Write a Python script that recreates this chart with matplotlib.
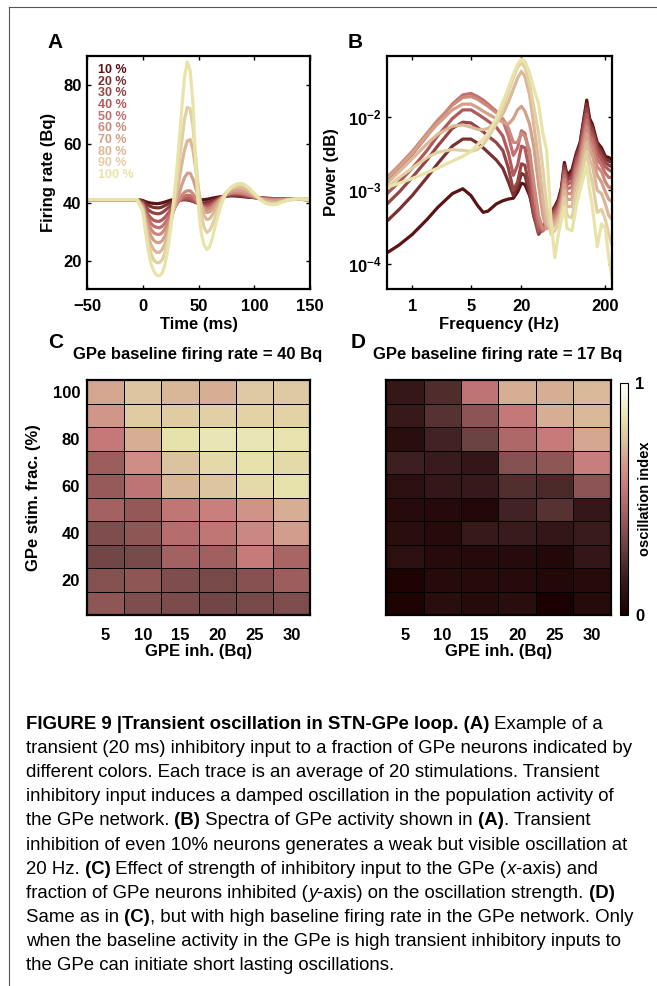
import numpy as np
import matplotlib
matplotlib.use('Agg')
import matplotlib.pyplot as plt
from matplotlib.colors import LinearSegmentedColormap
from matplotlib.lines import Line2D
from matplotlib import font_manager

plt.rcParams['font.family'] = 'Liberation Sans'
plt.rcParams['font.weight'] = 'bold'
plt.rcParams['axes.labelweight'] = 'bold'
plt.rcParams['axes.linewidth'] = 1.6
plt.rcParams['mathtext.fontset'] = 'custom'
plt.rcParams['mathtext.rm'] = 'Liberation Sans:bold'
plt.rcParams['mathtext.bf'] = 'Liberation Sans:bold'

# ---- data ----
fractions = ['10 %', '20 %', '30 %', '40 %', '50 %', '60 %', '70 %', '80 %', '90 %', '100 %']
trace_colors = ['#5c1313', '#7a3030', '#944545', '#b05a5a', '#c47070',
                '#cc8a7a', '#d4a08a', '#dbb898', '#e2d0a4', '#e8e4a8']

# panel A, firing rate (Bq) vs time (ms)
t_ms = [-50, -20, -5, 0, 2.5, 5, 7.5, 10, 12.5, 15, 17.5, 20, 22.5, 25, 27.5, 30, 32.5, 35, 37.5, 40,
        42.5, 45, 47.5, 50, 52.5, 55, 57.5, 60, 62.5, 65, 70, 75, 80, 85, 90, 95, 100, 105, 110,
        115, 120, 125, 130, 140, 150]
rate_10 = [41, 41, 41, 40.7, 40.3, 40, 39.8, 39.7, 39.6, 39.7, 39.9, 40.2, 40.5, 40.8, 41, 41.2, 41.3, 41.3, 41.3, 41.2,
           41.1, 41, 40.9, 40.9, 40.9, 41, 41.1, 41.3, 41.5, 41.7, 42, 42.2, 42.3, 42.2, 42, 41.8, 41.7, 41.6, 41.5,
           41.4, 41.3, 41.3, 41.2, 41.1, 41]
rate_20 = [41, 41, 41, 40.4, 39.6, 39, 38.6, 38.3, 38.2, 38.2, 38.5, 39, 39.5, 40, 40.4, 40.7, 40.9, 41, 41, 40.9,
           40.7, 40.4, 40.2, 40, 39.9, 39.9, 40, 40.3, 40.7, 41.1, 41.8, 42.3, 42.5, 42.4, 42.2, 41.9, 41.7, 41.5, 41.4,
           41.3, 41.3, 41.3, 41.2, 41.1, 41]
rate_30 = [41, 41, 41, 40, 38.6, 37.5, 36.8, 36.4, 36.2, 36.2, 36.6, 37.3, 38.1, 38.9, 39.6, 40.2, 40.6, 40.9, 41, 41,
           40.8, 40.4, 40, 39.6, 39.3, 39.2, 39.3, 39.6, 40.1, 40.6, 41.6, 42.4, 42.7, 42.7, 42.4, 42, 41.7, 41.5, 41.4,
           41.3, 41.3, 41.3, 41.2, 41.1, 41]
rate_40 = [41, 41, 41, 39.6, 37.5, 35.8, 34.6, 33.9, 33.6, 33.6, 34.1, 35, 36.2, 37.5, 38.7, 39.8, 40.6, 41.2, 41.5, 41.6,
           41.4, 40.9, 40.2, 39.5, 39, 38.7, 38.7, 39, 39.6, 40.3, 41.6, 42.6, 43, 43, 42.7, 42.2, 41.8, 41.5, 41.3,
           41.2, 41.2, 41.2, 41.2, 41.1, 41]
rate_50 = [41, 41, 41, 39.3, 36.5, 34.5, 32.8, 31.9, 31.5, 31.4, 31.9, 33, 34.5, 36.2, 37.8, 39.2, 40.5, 41.5, 42.2, 42.5,
           42.4, 41.8, 40.8, 39.8, 38.9, 38.3, 38.1, 38.3, 38.9, 39.8, 41.4, 42.7, 43.3, 43.3, 43, 42.5, 41.9, 41.5, 41.3,
           41.1, 41.1, 41.1, 41.2, 41.1, 41]
rate_60 = [41, 41, 41, 39, 35.5, 32.8, 30.8, 29.6, 29.2, 29.1, 29.7, 31, 32.8, 35, 37.2, 39.2, 41, 42.5, 43.5, 44,
           44, 43, 41.5, 40, 38.8, 38, 37.6, 37.8, 38.5, 39.5, 41.3, 42.8, 43.5, 43.6, 43.3, 42.7, 42, 41.5, 41.1,
           40.9, 40.9, 41, 41.1, 41.1, 41]
rate_70 = [41, 41, 41, 38.5, 34.5, 31, 28.5, 27, 26.4, 26.3, 27, 28.5, 31, 34, 37, 40, 43, 46, 48.5, 50,
           50, 48, 45, 41.5, 39, 37.3, 36.6, 36.8, 37.6, 38.8, 41.2, 43, 44, 44.2, 44, 43.2, 42.3, 41.5, 40.9,
           40.6, 40.6, 40.8, 41, 41.1, 41]
rate_80 = [41, 41, 41, 38, 33, 28.5, 25.5, 23.8, 23, 23, 24, 26, 29, 33, 37.5, 42, 47.5, 53, 58, 61,
           61.5, 58, 51.5, 44.5, 39, 35.5, 34.2, 34.5, 35.8, 37.5, 41, 43.5, 44.8, 45.2, 45, 44, 42.5, 41.3, 40.5,
           40.1, 40.1, 40.5, 41, 41.2, 41]
rate_90 = [41, 41, 41, 37.5, 31.5, 26, 22.5, 20.3, 19.5, 19.5, 20.5, 23, 27, 32, 38.5, 45, 53, 61, 68.5, 72.5,
           72, 66, 55, 44, 36, 31.5, 29.8, 30.5, 32.5, 35, 40, 43.5, 45, 46, 46, 45, 43, 41.2, 40,
           39.5, 39.6, 40.2, 40.8, 41.3, 41]
rate_100 = [41, 41, 41, 37, 30, 23.5, 19, 16.5, 15.2, 15, 16, 19, 24, 31, 40, 49, 60, 72, 83, 88,
            85, 74, 53, 38, 29.5, 25.5, 24, 25, 28, 32, 39, 43.5, 45.5, 46.5, 46.5, 45, 43, 41, 39.8,
            39.3, 39.4, 40.2, 40.9, 41.4, 41]
rates = [rate_10, rate_20, rate_30, rate_40, rate_50, rate_60, rate_70, rate_80, rate_90, rate_100]

# panel B, power in units of 1e-3 vs frequency (Hz)
f_hz = [0.5, 0.7, 1, 1.5, 2, 3, 4, 5, 6, 7, 8, 10, 12, 14, 16, 18, 20, 22, 25, 28, 32, 36, 40,
        45, 50, 55, 60, 65, 70, 80, 90, 100, 110, 120, 130, 140, 160, 180, 200, 220, 240]
pow_10 = [0.14, 0.18, 0.25, 0.40, 0.58, 0.90, 1.05, 0.85, 0.62, 0.50, 0.52, 0.65, 0.72, 0.76, 0.78, 0.95, 1.25, 1.2,
          0.85, 0.55, 0.40, 0.30, 0.40, 0.50, 0.60, 0.75, 1.1, 2.4, 1.6, 1.9, 3.2, 4.5, 9.0, 17, 9.5, 8.0, 4.5,
          3.8, 2.9, 2.8, 2.6]
pow_20 = [0.38, 0.55, 0.85, 1.5, 2.3, 4.0, 5.0, 5.0, 4.4, 3.8, 3.3, 2.6, 2.0, 1.3, 0.85, 1.1, 1.7, 1.6,
          0.9, 0.45, 0.30, 0.28, 0.42, 0.5, 0.58, 0.7, 1.0, 2.2, 1.5, 1.7, 3.0, 4.2, 8.5, 15, 8.5, 7.2, 4.2,
          3.4, 2.7, 2.5, 2.4]
pow_30 = [0.65, 0.95, 1.5, 2.6, 4.0, 7.0, 8.5, 8.3, 7.2, 6.3, 5.5, 4.5, 3.5, 2.0, 1.0, 1.3, 2.3, 2.2,
          1.1, 0.45, 0.25, 0.3, 0.38, 0.45, 0.55, 0.65, 0.95, 2.0, 1.35, 1.5, 2.7, 3.8, 7.5, 13, 7.5, 6.5, 3.8,
          3.0, 2.4, 2.2, 2.1]
pow_40 = [0.9, 1.3, 2.0, 3.5, 5.5, 9.5, 12.5, 12.5, 11, 9.8, 8.8, 7.3, 5.5, 3.2, 1.6, 2.2, 4.0, 3.8,
          1.8, 0.6, 0.28, 0.3, 0.35, 0.42, 0.5, 0.6, 0.9, 1.8, 1.2, 1.3, 2.4, 3.4, 6.5, 11, 6.5, 5.6, 3.3,
          2.6, 2.1, 1.9, 1.8]
pow_50 = [1.35, 2.0, 3.1, 5.5, 8.5, 15, 20, 21, 19, 17, 15, 12, 9, 5.5, 3.0, 3.8, 6.5, 6.0,
          3.0, 0.9, 0.35, 0.28, 0.32, 0.4, 0.46, 0.55, 0.8, 1.6, 1.05, 1.1, 2.1, 3.0, 5.5, 9, 5.5, 4.8, 2.7,
          2.2, 1.7, 1.5, 1.5]
pow_60 = [1.5, 2.2, 3.4, 6.0, 9, 14.5, 18.5, 19, 17.5, 15.5, 14, 11.5, 9.5, 7, 4.5, 4.5, 6, 5.5,
          3.5, 1.3, 0.45, 0.3, 0.3, 0.36, 0.42, 0.5, 0.72, 1.4, 0.9, 0.9, 1.8, 2.6, 4.6, 7.5, 4.5, 3.9, 2.1,
          1.8, 1.3, 1.1, 1.1]
pow_70 = [1.45, 2.1, 3.2, 5.6, 8, 12.5, 15, 15, 13.5, 12, 11, 9.5, 8.5, 8.0, 9.5, 12.5, 14, 12,
          8, 4.0, 1.2, 0.45, 0.3, 0.32, 0.38, 0.45, 0.65, 1.2, 0.75, 0.75, 1.5, 2.2, 3.8, 6, 3.6, 3.0, 1.6,
          1.3, 0.95, 0.75, 0.7]
pow_80 = [1.25, 1.8, 2.7, 4.3, 5.8, 7.5, 7.8, 7.3, 6.8, 6.7, 7.0, 8.5, 11, 16, 24, 34, 42, 36,
          20, 8, 2.5, 0.8, 0.35, 0.3, 0.34, 0.4, 0.55, 1.0, 0.6, 0.6, 1.2, 1.8, 3.0, 4.6, 2.6, 2.2, 1.0,
          0.9, 0.65, 0.45, 0.4]
pow_90 = [1.1, 1.5, 2.0, 2.8, 3.3, 3.6, 3.5, 3.4, 3.6, 4.2, 5.2, 8.0, 13, 22, 34, 48, 55, 48,
          28, 14, 6, 2, 0.6, 0.25, 0.28, 0.35, 0.48, 0.8, 0.45, 0.42, 0.9, 1.4, 2.2, 3.4, 1.8, 1.3, 0.5,
          0.55, 0.4, 0.25, 0.18]
pow_100 = [1.1, 1.25, 1.45, 1.75, 2.0, 2.5, 2.9, 3.4, 4.2, 5.0, 6.0, 9.5, 16, 25, 38, 52, 62, 58,
           40, 25, 15, 6, 3.5, 0.4, 0.12, 0.25, 0.4, 0.6, 0.3, 0.28, 0.6, 1.0, 1.5, 2.2, 1.0, 0.6, 0.17,
           0.35, 0.3, 0.12, 0.065]
powers = [pow_10, pow_20, pow_30, pow_40, pow_50, pow_60, pow_70, pow_80, pow_90, pow_100]

# panels C and D, oscillation index; rows from stim frac 100 (top) to 10 (bottom)
gpe_inh = [5, 10, 15, 20, 25, 30]
stim_frac = [100, 90, 80, 70, 60, 50, 40, 30, 20, 10]
osc_40 = [[0.68, 0.76, 0.72, 0.70, 0.77, 0.77],
          [0.64, 0.78, 0.78, 0.79, 0.80, 0.80],
          [0.54, 0.70, 0.84, 0.86, 0.86, 0.85],
          [0.42, 0.61, 0.75, 0.82, 0.84, 0.82],
          [0.41, 0.52, 0.72, 0.76, 0.82, 0.84],
          [0.44, 0.40, 0.53, 0.57, 0.63, 0.70],
          [0.35, 0.39, 0.49, 0.53, 0.59, 0.66],
          [0.32, 0.33, 0.44, 0.43, 0.55, 0.45],
          [0.36, 0.39, 0.35, 0.33, 0.37, 0.42],
          [0.39, 0.35, 0.34, 0.32, 0.33, 0.35]]
osc_17 = [[0.14, 0.22, 0.52, 0.70, 0.70, 0.73],
          [0.15, 0.24, 0.38, 0.54, 0.70, 0.73],
          [0.08, 0.18, 0.30, 0.47, 0.55, 0.68],
          [0.17, 0.16, 0.13, 0.36, 0.39, 0.56],
          [0.09, 0.14, 0.15, 0.23, 0.21, 0.38],
          [0.07, 0.06, 0.04, 0.18, 0.24, 0.14],
          [0.08, 0.07, 0.15, 0.16, 0.13, 0.16],
          [0.09, 0.07, 0.06, 0.07, 0.05, 0.13],
          [0.02, 0.07, 0.07, 0.07, 0.05, 0.07],
          [0.02, 0.08, 0.07, 0.08, 0.01, 0.07]]

cmap = LinearSegmentedColormap.from_list('osc', [
    (0.00, (0.10, 0.00, 0.00)), (0.15, (0.22, 0.10, 0.10)), (0.30, (0.42, 0.26, 0.26)),
    (0.45, (0.66, 0.39, 0.39)), (0.55, (0.78, 0.48, 0.48)), (0.65, (0.82, 0.60, 0.54)),
    (0.75, (0.86, 0.76, 0.62)), (0.85, (0.91, 0.89, 0.68)), (1.00, (1.00, 1.00, 1.00))])

W, H = 657, 986
fig = plt.figure(figsize=(W / 100, H / 100), dpi=100)


def box(l, t, r, b):
    return [l / W, 1 - b / H, (r - l) / W, (b - t) / H]


def style_ax(ax):
    ax.tick_params(direction='in', length=3, width=1, top=True, right=True, labelsize=12)
    ax.tick_params(axis='x', pad=7)
    ax.tick_params(axis='y', pad=4)


# A
axA = fig.add_axes(box(87, 56, 310, 289))
for r, c in zip(rates, trace_colors):
    axA.plot(t_ms, r, color=c, lw=2.3, solid_joinstyle='round')
axA.set_xlim(-50, 150)
axA.set_ylim(10.5, 90)
axA.set_xticks([-50, 0, 50, 100, 150])
axA.set_yticks([20, 40, 60, 80])
style_ax(axA)
axA.set_xlabel('Time (ms)', fontsize=12, labelpad=2)
axA.set_ylabel('Firing rate (Bq)', fontsize=12, labelpad=5)
for i, (lab, c) in enumerate(zip(fractions, trace_colors)):
    axA.text(0.05, 0.94 - i * 0.05, lab, color=c, fontsize=9, va='center', ha='left',
             transform=axA.transAxes)

# B
axB = fig.add_axes(box(387, 56, 612, 289))
for p, c in zip(powers, trace_colors):
    axB.plot(f_hz, np.array(p) * 1e-3, color=c, lw=2.3, solid_joinstyle='round')
axB.set_xscale('log')
axB.set_yscale('log')
axB.set_xlim(0.5, 240)
axB.set_ylim(4.5e-5, 6.8e-2)
axB.set_xticks([1, 5, 20, 200])
axB.set_xticklabels(['1', '5', '20', '200'])
axB.set_yticks([1e-4, 1e-3, 1e-2])
axB.set_yticklabels([r'$\mathregular{10^{-4}}$', r'$\mathregular{10^{-3}}$', r'$\mathregular{10^{-2}}$'])
axB.minorticks_off()
style_ax(axB)
axB.set_xlabel('Frequency (Hz)', fontsize=12, labelpad=2)
axB.set_ylabel('Power (dB)', fontsize=12, labelpad=6)

# C and D
heat = []
for vals, l, r, title, tx in [(osc_40, 87, 310, 'GPe baseline firing rate = 40 Bq', 198),
                              (osc_17, 386, 611, 'GPe baseline firing rate = 17 Bq', 498)]:
    ax = fig.add_axes(box(l, 380, r, 615))
    m = ax.pcolormesh(gpe_inh, stim_frac, vals, shading='nearest', cmap=cmap, vmin=0, vmax=1,
                      edgecolors='k', linewidth=0.7)
    ax.set_xticks(gpe_inh)
    ax.set_yticks([20, 40, 60, 80, 100])
    ax.tick_params(length=0, labelsize=12)
    ax.tick_params(axis='x', pad=9)
    ax.tick_params(axis='y', pad=5)
    ax.set_xlabel('GPE inh. (Bq)', fontsize=12, labelpad=1)
    fig.text(tx / W, 1 - 355 / H, title, fontsize=12, ha='center', va='center')
    heat.append(ax)
heat[0].set_ylabel('GPe stim. frac. (%)', fontsize=12, labelpad=8)
heat[1].set_yticklabels([])

cax = fig.add_axes(box(620, 383, 628, 615))
cb = fig.colorbar(m, cax=cax, ticks=[0, 1])
cb.outline.set_linewidth(0.8)
cax.tick_params(length=0, labelsize=12, pad=5)
fig.text(645 / W, 1 - 499 / H, 'oscillation index', rotation=90, fontsize=10.5, ha='center', va='center')

for lab, x, y in [('A', 55, 42), ('B', 355, 42), ('C', 56, 343), ('D', 358, 343)]:
    fig.text(x / W, 1 - y / H, lab, fontsize=15, ha='center', va='center')

# frame
fig.add_artist(Line2D([9 / W, 9 / W], [0, 1 - 7 / H], color='#555555', lw=0.8))
fig.add_artist(Line2D([9 / W, 1], [1 - 7 / H, 1 - 7 / H], color='#555555', lw=0.8))

# caption
names = {f.name for f in font_manager.fontManager.ttflist}
if 'Liberation Sans Narrow' in names:
    cap_font, cap_fs = 'Liberation Sans Narrow', 13.6
else:
    cap_font, cap_fs = 'Liberation Sans', 13.45

caption = [
    [('FIGURE 9 |Transient oscillation in STN-GPe loop. (A)', 'b'), (' Example of a', 'r')],
    [('transient (20 ms) inhibitory input to a fraction of GPe neurons indicated by', 'r')],
    [('different colors. Each trace is an average of 20 stimulations. Transient', 'r')],
    [('inhibitory input induces a damped oscillation in the population activity of', 'r')],
    [('the GPe network.', 'r'), (' (B)', 'b'), (' Spectra of GPe activity shown in', 'r'), (' (A)', 'b'),
     ('. Transient', 'r')],
    [('inhibition of even 10% neurons generates a weak but visible oscillation at', 'r')],
    [('20 Hz.', 'r'), (' (C)', 'b'), (' Effect of strength of inhibitory input to the GPe (', 'r'), ('x', 'i'),
     ('-axis) and', 'r')],
    [('fraction of GPe neurons inhibited (', 'r'), ('y', 'i'), ('-axis) on the oscillation strength.', 'r'),
     (' (D)', 'b')],
    [('Same as in', 'r'), (' (C)', 'b'), (', but with high baseline firing rate in the GPe network. Only', 'r')],
    [('when the baseline activity in the GPe is high transient inhibitory inputs to', 'r')],
    [('the GPe can initiate short lasting oscillations.', 'r')],
]
renderer = fig.canvas.get_renderer()
for k, parts in enumerate(caption):
    x = 26 / W
    y = 1 - (729 + k * 24.1) / H
    for txt, st in parts:
        t = fig.text(x, y, txt, family=cap_font, fontsize=cap_fs, va='baseline', ha='left',
                     fontweight='bold' if st == 'b' else 'normal',
                     style='italic' if st == 'i' else 'normal')
        x += t.get_window_extent(renderer).width / W

fig.savefig('out.png', dpi=100)
